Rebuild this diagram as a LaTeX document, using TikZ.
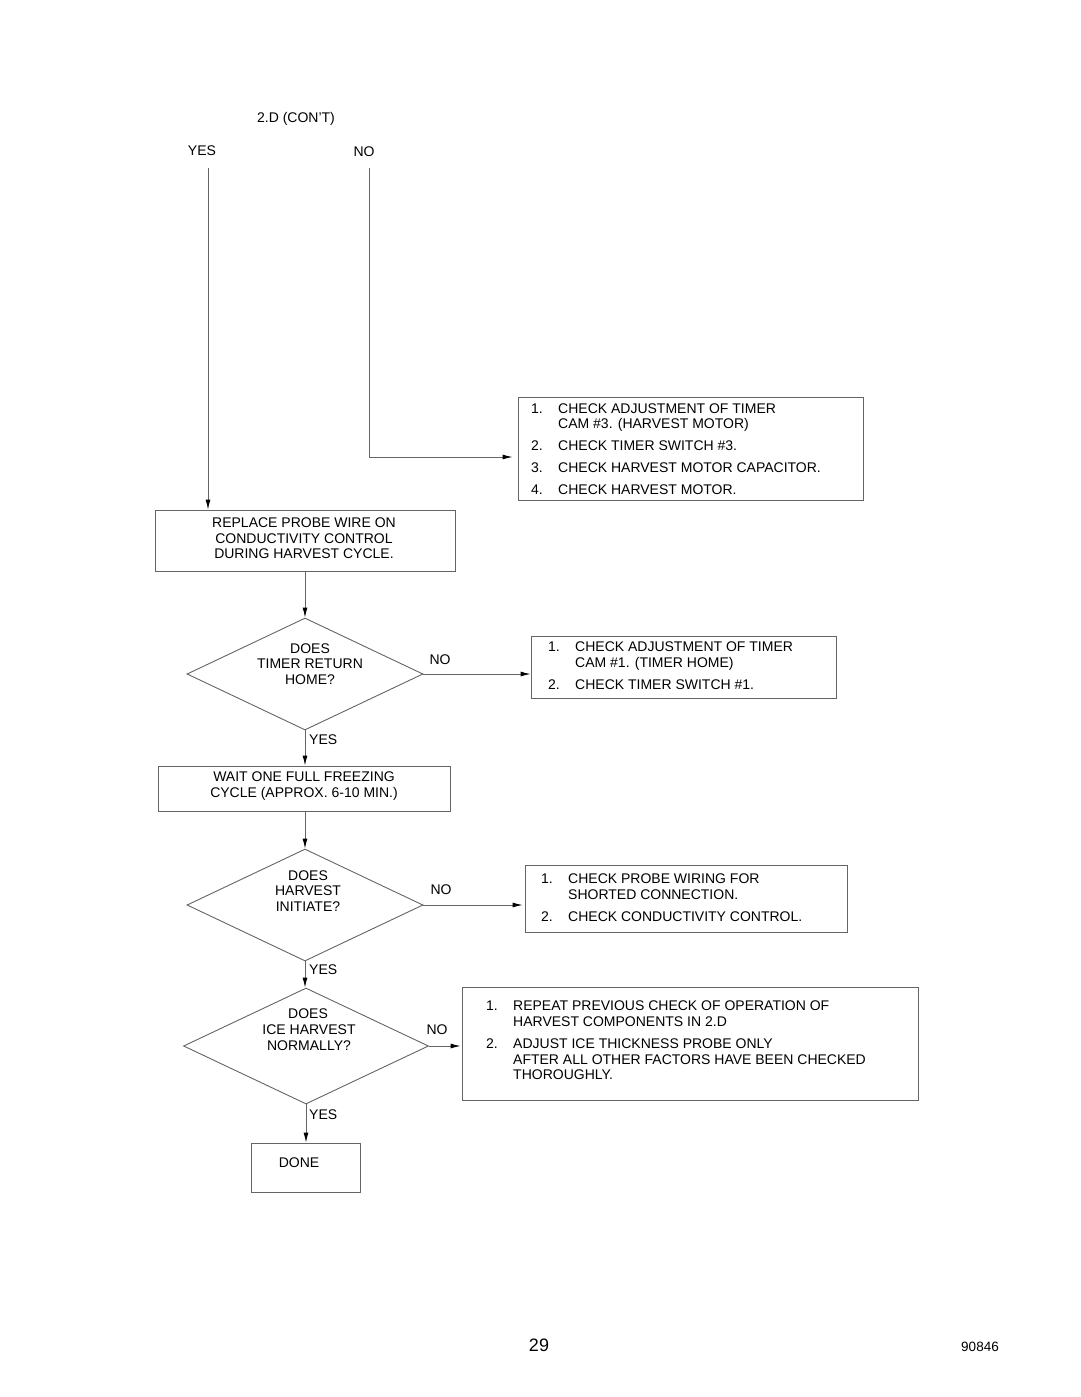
\documentclass[tikz,border=0pt]{standalone}
\usepackage{fontspec}
\setmainfont{Liberation Sans}
\usetikzlibrary{shapes.geometric,arrows.meta}
\definecolor{lcol}{RGB}{100,100,100}
\begin{document}
\begin{tikzpicture}[x=1pt,y=-1pt,
  font=\fontsize{14}{15.5}\selectfont,
  box/.style={draw=lcol, line width=0.9pt, rectangle, inner sep=0pt},
  dia/.style={draw=lcol, line width=0.9pt, diamond, inner sep=0pt},
  txt/.style={inner sep=0pt, anchor=base west},
  ctxt/.style={inner sep=0pt, anchor=base},
  wire/.style={draw=lcol, line width=0.9pt},
  arr/.style={draw=lcol, line width=0.9pt, -{Latex[length=10pt,width=5pt,black]}}]
\useasboundingbox (0,0) rectangle (1080,1397);

% header
\node[ctxt] (hdr) at (296,122) {2.D (CON’T)};
\node[ctxt] (yeshdr) at (202,155) {YES};
\node[ctxt] (nohdr) at (364,156) {NO};
\coordinate (yestop) at (208,168);
\coordinate (notop) at (369,168);
\coordinate (nobend) at (369,457);

% boxes
\node[box, minimum width=345pt, minimum height=103pt] (b1) at (690.5,448.5) {};
\node[box, minimum width=300pt, minimum height=61pt] (rep) at (305,540.5) {};
\node[dia, minimum width=236pt, minimum height=112pt] (d1) at (305,674) {};
\node[box, minimum width=305pt, minimum height=62pt] (b2) at (683.5,667) {};
\node[box, minimum width=292pt, minimum height=45pt] (wait) at (304,788.5) {};
\node[dia, minimum width=236pt, minimum height=112pt] (d2) at (305,905) {};
\node[box, minimum width=322pt, minimum height=67pt] (b3) at (686,898.5) {};
\node[dia, minimum width=245pt, minimum height=116pt] (d3) at (306,1046) {};
\node[box, minimum width=456pt, minimum height=113pt] (b4) at (690,1043.5) {};
\node[box, minimum width=109pt, minimum height=49pt] (done) at (305.5,1167.5) {};

% box 1 text
\node[txt] (b1n1) at (531,413) {1.};
\node[txt] (b1t1) at (558,413) {CHECK ADJUSTMENT OF TIMER};
\node[txt] (b1t1b) at (558,428) {CAM \#3. (HARVEST MOTOR)};
\node[txt] (b1n2) at (531,450) {2.};
\node[txt] (b1t2) at (558,450) {CHECK TIMER SWITCH \#3.};
\node[txt] (b1n3) at (531,472) {3.};
\node[txt] (b1t3) at (558,472) {CHECK HARVEST MOTOR CAPACITOR.};
\node[txt] (b1n4) at (531,494) {4.};
\node[txt] (b1t4) at (558,494) {CHECK HARVEST MOTOR.};

% replace box text
\node[ctxt] (rep1) at (304,527) {REPLACE PROBE WIRE ON};
\node[ctxt] (rep2) at (304,543) {CONDUCTIVITY CONTROL};
\node[ctxt] (rep3) at (304,558) {DURING HARVEST CYCLE.};

% diamond 1 text
\node[ctxt] (d1a) at (310,653) {DOES};
\node[ctxt] (d1b) at (310,668) {TIMER RETURN};
\node[ctxt] (d1c) at (310,684) {HOME?};
\node[ctxt] (no1) at (440,664) {NO};
\node[txt] (yes1) at (309,744) {YES};

% box 2 text
\node[txt] (b2n1) at (548,651) {1.};
\node[txt] (b2t1) at (575,651) {CHECK ADJUSTMENT OF TIMER};
\node[txt] (b2t1b) at (575,667) {CAM \#1. (TIMER HOME)};
\node[txt] (b2n2) at (548,689) {2.};
\node[txt] (b2t2) at (575,689) {CHECK TIMER SWITCH \#1.};

% wait box text
\node[ctxt] (w1) at (304,781) {WAIT ONE FULL FREEZING};
\node[ctxt] (w2) at (304,797) {CYCLE (APPROX. 6-10 MIN.)};

% diamond 2 text
\node[ctxt] (d2a) at (308,880) {DOES};
\node[ctxt] (d2b) at (308,895) {HARVEST};
\node[ctxt] (d2c) at (308,911) {INITIATE?};
\node[ctxt] (no2) at (441,894) {NO};
\node[txt] (yes2) at (309,974) {YES};

% box 3 text
\node[txt] (b3n1) at (541,883) {1.};
\node[txt] (b3t1) at (568,883) {CHECK PROBE WIRING FOR};
\node[txt] (b3t1b) at (568,899) {SHORTED CONNECTION.};
\node[txt] (b3n2) at (541,921) {2.};
\node[txt] (b3t2) at (568,921) {CHECK CONDUCTIVITY CONTROL.};

% diamond 3 text
\node[ctxt] (d3a) at (308,1018) {DOES};
\node[ctxt] (d3b) at (309,1034) {ICE HARVEST};
\node[ctxt] (d3c) at (309,1050) {NORMALLY?};
\node[ctxt] (no3) at (437,1034) {NO};
\node[txt] (yes3) at (309,1119) {YES};

% box 4 text
\node[txt] (b4n1) at (486,1010) {1.};
\node[txt] (b4t1) at (513,1010) {REPEAT PREVIOUS CHECK OF OPERATION OF};
\node[txt] (b4t1b) at (513,1026) {HARVEST COMPONENTS IN 2.D};
\node[txt] (b4n2) at (486,1048) {2.};
\node[txt] (b4t2) at (513,1048) {ADJUST ICE THICKNESS PROBE ONLY};
\node[txt] (b4t2b) at (513,1064) {AFTER ALL OTHER FACTORS HAVE BEEN CHECKED};
\node[txt] (b4t2c) at (513,1079) {THOROUGHLY.};

% done text
\node[ctxt] (donet) at (299,1167) {DONE};

% footer
\node[ctxt, font=\fontsize{18}{20}\selectfont] (page) at (539,1351.5) {29};
\node[ctxt, font=\fontsize{13.5}{15}\selectfont] (code) at (980,1351) {90846};

% connectors
\draw[arr] (yestop) -- (yestop |- rep.north);
\draw[arr, shorten >=5pt] (notop) -- (nobend) -- (nobend -| b1.west);
\draw[arr] (rep.south) -- (d1.north);
\draw[arr] (d1.east) -- (d1.east -| b2.west);
\draw[arr] (d1.south) -- (d1.south |- wait.north);
\draw[arr] (wait.south -| d2.north) -- (d2.north);
\draw[arr, shorten >=2pt] (d2.east) -- (d2.east -| b3.west);
\draw[arr] (d2.south) -- (d2.south |- d3.north);
\draw[arr, shorten >=1pt] (d3.east) -- (d3.east -| b4.west);
\draw[arr] (d3.south) -- (d3.south |- done.north);
\end{tikzpicture}
\end{document}
